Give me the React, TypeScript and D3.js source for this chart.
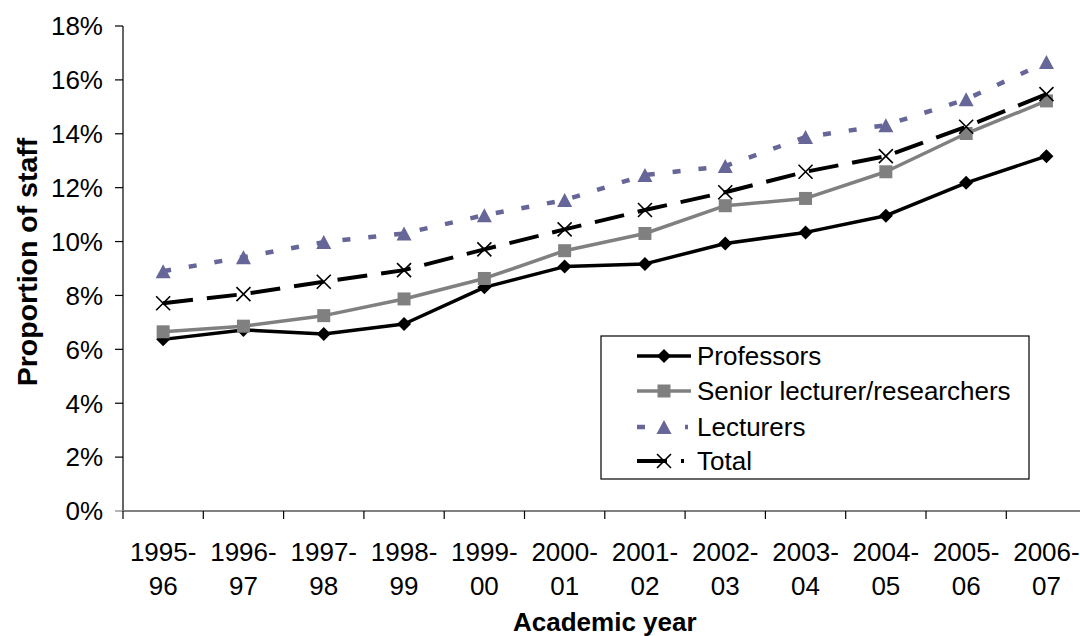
import React from "react";
import * as d3 from "d3";

// Academic years (two-line tick labels)
const years = [
  "1995-96", "1996-97", "1997-98", "1998-99", "1999-00", "2000-01",
  "2001-02", "2002-03", "2003-04", "2004-05", "2005-06", "2006-07",
];

// Share of staff (%) by grade
const professors = [6.37, 6.72, 6.57, 6.94, 8.3, 9.07, 9.17, 9.93, 10.34, 10.96, 12.18, 13.17];
const seniorLecturers = [6.65, 6.86, 7.25, 7.87, 8.63, 9.66, 10.3, 11.33, 11.6, 12.59, 14.01, 15.22];
const lecturers = [8.9, 9.42, 9.98, 10.3, 10.98, 11.54, 12.47, 12.8, 13.88, 14.32, 15.28, 16.66];
const total = [7.71, 8.05, 8.51, 8.94, 9.71, 10.45, 11.17, 11.83, 12.59, 13.17, 14.26, 15.47];

const yTicks = [0, 2, 4, 6, 8, 10, 12, 14, 16, 18];

type Marker = "diamond" | "square" | "triangle" | "cross";

const seriesList: {
  name: string;
  values: number[];
  color: string;
  width: number;
  dash?: string;
  marker: Marker;
}[] = [
  { name: "Professors", values: professors, color: "#000000", width: 3.5, marker: "diamond" },
  { name: "Senior lecturer/researchers", values: seniorLecturers, color: "#808080", width: 3.5, marker: "square" },
  { name: "Lecturers", values: lecturers, color: "#666699", width: 4.5, dash: "8,18", marker: "triangle" },
  { name: "Total", values: total, color: "#000000", width: 4, dash: "30,14", marker: "cross" },
];

const FONT = "'Liberation Sans', Arial, sans-serif";

const W = 1080;
const H = 636;
const plotLeft = 123;
const bandW = 80.3;
const plotTop = 26;
const plotBottom = 511;

const x = d3
  .scaleBand<string>()
  .domain(years)
  .range([plotLeft, plotLeft + bandW * years.length])
  .paddingInner(0)
  .paddingOuter(0);

const y = d3.scaleLinear().domain([0, 18]).range([plotBottom, plotTop]);

const cx = (yr: string) => (x(yr) as number) + x.bandwidth() / 2;

function MarkerShape({ type, px, py, color }: { type: Marker; px: number; py: number; color: string }) {
  if (type === "diamond") {
    const r = 7;
    return <path d={`M${px},${py - r}L${px + r},${py}L${px},${py + r}L${px - r},${py}Z`} fill={color} />;
  }
  if (type === "square") {
    const s = 13;
    return <rect x={px - s / 2} y={py - s / 2} width={s} height={s} fill={color} />;
  }
  if (type === "triangle") {
    const w = 15;
    const h = 14;
    return (
      <path
        d={`M${px},${py - h / 2}L${px + w / 2},${py + h / 2}L${px - w / 2},${py + h / 2}Z`}
        fill={color}
      />
    );
  }
  const r = 7;
  return (
    <path
      d={`M${px - r},${py - r}L${px + r},${py + r}M${px + r},${py - r}L${px - r},${py + r}`}
      stroke={color}
      strokeWidth={1.6}
      fill="none"
    />
  );
}

export default function App() {
  const line = d3
    .line<number>()
    .x((_, i) => cx(years[i]))
    .y((d) => y(d));

  const tickPositions = d3.range(years.length + 1).map((i) => plotLeft + i * bandW);

  const legendX = 601;
  const legendY = 336;
  const legendW = 428;
  const legendH = 143;
  const legendRows = [356, 391, 427, 461];

  return (
    <svg
      width={W}
      height={H}
      style={{ position: "absolute", left: 0, top: 0, background: "#fff" }}
      fontFamily={FONT}
    >
      {/* y axis */}
      <line x1={plotLeft} x2={plotLeft} y1={plotTop} y2={plotBottom} stroke="#000" strokeWidth={1.2} />
      {yTicks.map((t) => (
        <g key={t}>
          <line x1={plotLeft - 8} x2={plotLeft} y1={y(t)} y2={y(t)} stroke={t === 0 ? "#808080" : "#000"} strokeWidth={1.2} />
          <text x={103} y={y(t)} dy="0.36em" textAnchor="end" fontSize={26} fill="#000">
            {`${t}%`}
          </text>
        </g>
      ))}

      {/* x axis */}
      <line x1={plotLeft} x2={W} y1={plotBottom} y2={plotBottom} stroke="#808080" strokeWidth={2} />
      {tickPositions.map((p, i) => (
        <line key={i} x1={p} x2={p} y1={plotBottom} y2={plotBottom + 8} stroke="#000" strokeWidth={1.2} />
      ))}
      {years.map((yr) => {
        const [a, b] = yr.split("-");
        return (
          <text key={yr} x={cx(yr)} textAnchor="middle" fontSize={26} fill="#000">
            <tspan x={cx(yr)} y={561}>{`${a}-`}</tspan>
            <tspan x={cx(yr)} y={595}>{b}</tspan>
          </text>
        );
      })}

      {/* axis titles */}
      <text x={cx(years[5]) + bandW / 2} y={631} textAnchor="middle" fontSize={26} fontWeight="bold">
        Academic year
      </text>
      <text
        transform={`translate(37,262) rotate(-90)`}
        textAnchor="middle"
        fontSize={28.5}
        fontWeight="bold"
      >
        Proportion of staff
      </text>

      {/* series */}
      {seriesList.map((s) => (
        <g key={s.name}>
          <path
            d={line(s.values) || ""}
            fill="none"
            stroke={s.color}
            strokeWidth={s.width}
            strokeDasharray={s.dash}
            strokeLinejoin="round"
          />
          {s.values.map((v, i) => (
            <MarkerShape key={i} type={s.marker} px={cx(years[i])} py={y(v)} color={s.color} />
          ))}
        </g>
      ))}

      {/* legend */}
      <rect x={legendX} y={legendY} width={legendW} height={legendH} fill="#fff" stroke="#000" strokeWidth={1.2} />
      {seriesList.map((s, i) => (
        <g key={s.name}>
          <line
            x1={637}
            x2={s.dash ? 688 : 691}
            y1={legendRows[i]}
            y2={legendRows[i]}
            stroke={s.color}
            strokeWidth={s.width}
            strokeDasharray={s.dash ? (s.marker === "cross" ? "30,14,3,20" : "8,40") : undefined}
          />
          <MarkerShape type={s.marker} px={664} py={legendRows[i]} color={s.color} />
          <text x={697} y={legendRows[i]} dy="0.36em" fontSize={26} fill="#000">
            {s.name}
          </text>
        </g>
      ))}
    </svg>
  );
}
